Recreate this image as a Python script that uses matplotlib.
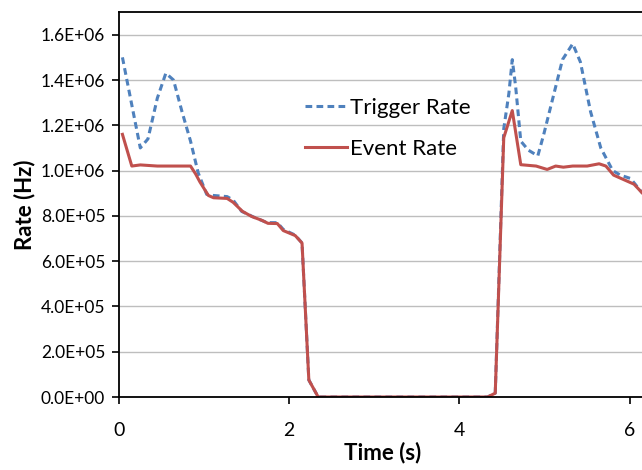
import matplotlib
matplotlib.use('Agg')
import matplotlib.pyplot as plt
from matplotlib.ticker import FuncFormatter, MultipleLocator

plt.rcParams['font.family'] = ['Lato', 'DejaVu Sans']

# Rates, in units of 1e5 Hz
trig_t = [0.04, 0.15, 0.25, 0.34, 0.45, 0.55, 0.64, 0.74, 0.84, 0.93, 1.03, 1.11,
          1.27, 1.34, 1.44, 1.58, 1.74, 1.86, 1.93, 2.07, 2.15, 2.23, 2.34, 4.33,
          4.42, 4.52, 4.58, 4.62, 4.66, 4.72, 4.81, 4.92, 4.99, 5.09, 5.21, 5.33,
          5.42, 5.54, 5.66, 5.80, 5.89, 6.01, 6.15]
trig_rate = [15.0, 12.9, 11.0, 11.4, 13.2, 14.3, 14.0, 12.6, 11.3, 9.9, 8.95, 8.9,
             8.85, 8.7, 8.2, 7.95, 7.7, 7.7, 7.4, 7.15, 6.8, 0.75, 0.0, 0.0,
             0.17, 11.85, 13.4, 14.9, 13.7, 11.3, 10.9, 10.65, 11.6, 13.1, 14.9, 15.6,
             14.8, 12.6, 11.0, 10.0, 9.8, 9.65, 9.0]

evt_t = [0.04, 0.15, 0.25, 0.45, 0.64, 0.84, 0.90, 0.95, 1.05, 1.11, 1.27, 1.34,
         1.45, 1.56, 1.68, 1.75, 1.86, 1.93, 2.07, 2.15, 2.23, 2.34, 4.33, 4.42,
         4.52, 4.62, 4.72, 4.90, 5.03, 5.13, 5.22, 5.33, 5.50, 5.64, 5.72, 5.81,
         5.93, 6.05, 6.15]
evt_rate = [11.6, 10.2, 10.25, 10.2, 10.2, 10.2, 9.85, 9.5, 8.9, 8.8, 8.77, 8.6,
            8.2, 7.97, 7.8, 7.67, 7.66, 7.35, 7.13, 6.8, 0.75, 0.0, 0.0, 0.17,
            11.45, 12.65, 10.26, 10.2, 10.05, 10.2, 10.15, 10.2, 10.2, 10.3, 10.2, 9.8,
            9.6, 9.4, 9.0]

fig = plt.figure(figsize=(6.42, 4.70), dpi=100)
ax = fig.add_axes([0.1854, 0.1553, 0.822, 0.819])

ax.plot(trig_t, [r * 1e5 for r in trig_rate], color='#4F81BD', lw=2.2,
        linestyle=(0, (2.2, 1.4)), label='Trigger Rate')
ax.plot(evt_t, [r * 1e5 for r in evt_rate], color='#C0504D', lw=2.2,
        label='Event Rate')

ax.set_xlim(0, 6.2)
ax.set_ylim(0, 1.7e6)
ax.xaxis.set_major_locator(MultipleLocator(2))
ax.yaxis.set_major_locator(MultipleLocator(2e5))
ax.yaxis.set_major_formatter(FuncFormatter(lambda v, p: f'{v:.1E}'))
ax.grid(axis='y', color='#BEBEBE', lw=1)
ax.set_axisbelow(True)

for s in ax.spines.values():
    s.set_linewidth(1.3)
ax.tick_params(axis='y', labelsize=12.5, direction='out', length=5, width=1.2, pad=5)
ax.tick_params(axis='x', labelsize=14, direction='out', length=5, width=1.2, pad=13)

ax.set_xlabel('Time (s)', fontsize=16, fontweight='bold', labelpad=2)
ax.set_ylabel('Rate (Hz)', fontsize=16, fontweight='bold', labelpad=4)

ax.legend(loc='upper left', bbox_to_anchor=(0.315, 0.83), frameon=False,
          fontsize=16, handlelength=1.9, handletextpad=0.1, labelspacing=0.95)

fig.savefig('out.png', dpi=100)
